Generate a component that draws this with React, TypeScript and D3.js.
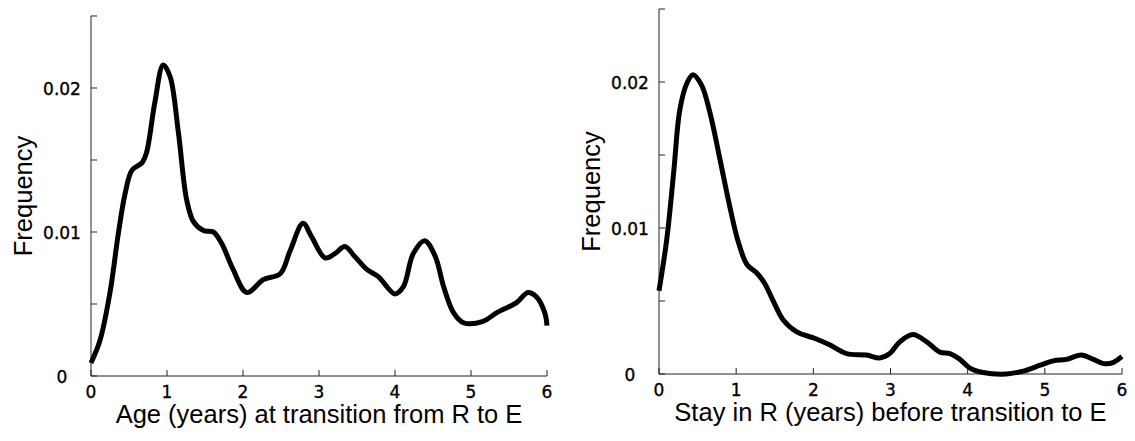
import React from "react";
import * as d3 from "d3";

// Left panel: age at transition R -> E
const ageX = [0, 0.12, 0.25, 0.36, 0.45, 0.54, 0.67, 0.73, 0.84, 0.95, 1.04, 1.15, 1.26, 1.35, 1.48, 1.61, 1.72, 1.87, 2.05, 2.27, 2.49, 2.62, 2.79, 2.9, 3.08, 3.21, 3.34, 3.47, 3.63, 3.78, 4.0, 4.11, 4.24, 4.39, 4.53, 4.64, 4.77, 4.9, 5.16, 5.34, 5.6, 5.75, 5.86, 5.97, 6.0];
const ageFreq = [0.0009, 0.0025, 0.0058, 0.0099, 0.0127, 0.0143, 0.0148, 0.0155, 0.019, 0.0216, 0.0208, 0.0169, 0.0122, 0.0107, 0.0101, 0.01, 0.0092, 0.0074, 0.0058, 0.0067, 0.0071, 0.0087, 0.0106, 0.0097, 0.0082, 0.0085, 0.009, 0.0083, 0.0074, 0.0069, 0.0057, 0.0062, 0.0085, 0.0094, 0.0083, 0.0062, 0.0044, 0.0037, 0.0038, 0.0044, 0.0051, 0.0058, 0.0055, 0.0044, 0.0035];

// Right panel: stay in R before transition to E
const stayX = [0, 0.1, 0.19, 0.27, 0.36, 0.44, 0.55, 0.66, 0.79, 0.92, 1.03, 1.14, 1.27, 1.37, 1.48, 1.61, 1.78, 2.04, 2.21, 2.43, 2.69, 2.86, 2.99, 3.12, 3.29, 3.47, 3.64, 3.77, 3.9, 4.03, 4.2, 4.5, 4.72, 4.94, 5.11, 5.28, 5.47, 5.63, 5.78, 5.89, 6.0];
const stayFreq = [0.0057, 0.0092, 0.0138, 0.0181, 0.0199, 0.0205, 0.0198, 0.0179, 0.0147, 0.0114, 0.009, 0.0075, 0.0069, 0.0062, 0.005, 0.0037, 0.0029, 0.0024, 0.002, 0.0014, 0.0013, 0.0011, 0.0014, 0.0022, 0.0027, 0.0022, 0.0015, 0.0014, 0.001, 0.0004, 0.0001, 0, 0.0002, 0.0006, 0.0009, 0.001, 0.0013, 0.001, 0.0007, 0.0008, 0.0012];

const xTicks = [0, 1, 2, 3, 4, 5, 6];
const yTicks = [0, 0.005, 0.01, 0.015, 0.02, 0.025];
const yTickLabels = [
  { v: 0, t: "0" },
  { v: 0.01, t: "0.01" },
  { v: 0.02, t: "0.02" },
];

interface PanelProps {
  xs: number[];
  ys: number[];
  left: number;
  right: number;
  top: number;
  bottom: number;
  xLabel: string;
}

function Panel({ xs, ys, left, right, top, bottom, xLabel }: PanelProps) {
  const x = d3.scaleLinear().domain([0, 6]).range([left, right]);
  const y = d3.scaleLinear().domain([0, 0.025]).range([bottom, top]);
  const line = d3
    .line<number>()
    .x((d, i) => x(xs[i]))
    .y((d) => y(d))
    .curve(d3.curveCatmullRom.alpha(0.5));

  return (
    <g>
      {/* axes */}
      <line x1={left} x2={left} y1={top} y2={bottom} stroke="#222" strokeWidth={1} />
      <line x1={left} x2={right} y1={bottom} y2={bottom} stroke="#222" strokeWidth={1} />
      {yTicks.map((t) => (
        <line key={"yt" + t} x1={left} x2={left + 6} y1={y(t)} y2={y(t)} stroke="#222" strokeWidth={1} />
      ))}
      {xTicks.map((t) => (
        <line key={"xt" + t} x1={x(t)} x2={x(t)} y1={bottom} y2={bottom - 6} stroke="#222" strokeWidth={1} />
      ))}
      <g fontFamily="DejaVu Sans" fontSize={17} fill="#000" stroke="#000" strokeWidth={0.35}>
        {yTickLabels.map((d) => (
          <text key={"yl" + d.v} x={left - 29} y={y(d.v) + 7} textAnchor="middle">
            {d.t}
          </text>
        ))}
        {xTicks.map((t) => (
          <text key={"xl" + t} x={x(t)} y={bottom + 22} textAnchor="middle">
            {t}
          </text>
        ))}
      </g>
      <text
        x={(left + right) / 2}
        y={bottom + 47}
        textAnchor="middle"
        fontFamily="Liberation Sans, Arial, sans-serif"
        fontSize={25.5}
      >
        {xLabel}
      </text>
      <text
        transform={`translate(${left - 59},${(top + bottom) / 2}) rotate(-90)`}
        textAnchor="middle"
        fontFamily="Liberation Sans, Arial, sans-serif"
        fontSize={25.5}
      >
        Frequency
      </text>
      <path d={line(ys) ?? ""} fill="none" stroke="#000" strokeWidth={5} strokeLinejoin="round" />
    </g>
  );
}

export default function App() {
  return (
    <svg
      width={1135}
      height={441}
      style={{ position: "absolute", left: 0, top: 0, background: "#fff" }}
    >
      <rect width={1135} height={441} fill="#fff" />
      <Panel
        xs={ageX}
        ys={ageFreq}
        left={91}
        right={547}
        top={16}
        bottom={376}
        xLabel="Age (years) at transition from R to E"
      />
      <Panel
        xs={stayX}
        ys={stayFreq}
        left={659}
        right={1122}
        top={9}
        bottom={374}
        xLabel="Stay in R (years) before transition to E"
      />
    </svg>
  );
}
